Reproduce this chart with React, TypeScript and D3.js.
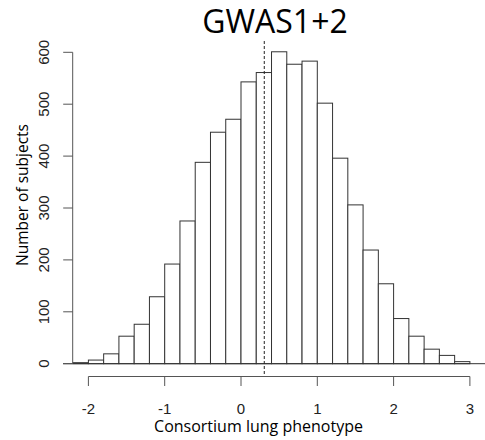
import React from "react";
import * as d3 from "d3";

const binStarts = [-2.2, -2.0, -1.8, -1.6, -1.4, -1.2, -1.0, -0.8, -0.6, -0.4, -0.2, 0.0, 0.2, 0.4, 0.6, 0.8, 1.0, 1.2, 1.4, 1.6, 1.8, 2.0, 2.2, 2.4, 2.6, 2.8];
const counts = [2, 7, 19, 53, 76, 129, 192, 275, 388, 446, 471, 543, 561, 601, 577, 583, 502, 396, 306, 219, 154, 87, 53, 28, 16, 4];
const binWidth = 0.2;
const xTicks = [-2, -1, 0, 1, 2, 3];
const yTicks = [0, 100, 200, 300, 400, 500, 600];
const meanLine = 0.305;
const title = "GWAS1+2";
const xLabel = "Consortium lung phenotype";
const yLabel = "Number of subjects";

export default function App() {
  const W = 485, H = 440;
  const x = d3.scaleLinear().domain([0, 1]).range([241, 317.3]);
  const y = d3.scaleLinear().domain([0, 600]).range([363.7, 52.3]);
  const axisY = 376.5;
  const yAxisX = 72.7;
  const tickFont = "'Liberation Sans', Arial, sans-serif";
  const labFont = "'Open Sans', 'Noto Sans', sans-serif";
  return (
    <svg width={W} height={H} style={{ position: "absolute", left: 0, top: 0, background: "#fff" }}>
      <text x={275} y={33} textAnchor="middle" fontFamily={labFont} fontSize={32} fill="#000">{title}</text>
      {counts.map((c, i) => (
        <rect key={i}
          x={x(binStarts[i])}
          y={y(c)}
          width={x(binStarts[i] + binWidth) - x(binStarts[i])}
          height={y(0) - y(c)}
          fill="#fff" stroke="#333" strokeWidth={1} />
      ))}
      <line x1={63} x2={485} y1={y(0)} y2={y(0)} stroke="#333" strokeWidth={1} />
      <line x1={x(meanLine)} x2={x(meanLine)} y1={41} y2={axisY} stroke="#222" strokeWidth={1} strokeDasharray="3,2" />
      <line x1={yAxisX} x2={yAxisX} y1={y(0)} y2={y(600)} stroke="#555" strokeWidth={1} />
      {yTicks.map((t) => (
        <g key={t}>
          <line x1={yAxisX - 9.5} x2={yAxisX} y1={y(t)} y2={y(t)} stroke="#555" strokeWidth={1} />
          <text transform={`translate(${48.5},${y(t)}) rotate(-90)`} textAnchor="middle" fontFamily={tickFont} fontSize={15} fill="#222">{t}</text>
        </g>
      ))}
      <text transform={`translate(${28},${195}) rotate(-90)`} textAnchor="middle" fontFamily={labFont} fontSize={15.5} fill="#000">{yLabel}</text>
      <line x1={x(-2)} x2={x(3)} y1={axisY} y2={axisY} stroke="#555" strokeWidth={1} />
      {xTicks.map((t) => (
        <g key={t}>
          <line x1={x(t)} x2={x(t)} y1={axisY} y2={axisY + 9.5} stroke="#555" strokeWidth={1} />
          <text x={x(t)} y={413.5} textAnchor="middle" fontFamily={tickFont} fontSize={15} fill="#222">{t}</text>
        </g>
      ))}
      <text x={258.5} y={432} textAnchor="middle" fontFamily={labFont} fontSize={16} fill="#000">{xLabel}</text>
    </svg>
  );
}
